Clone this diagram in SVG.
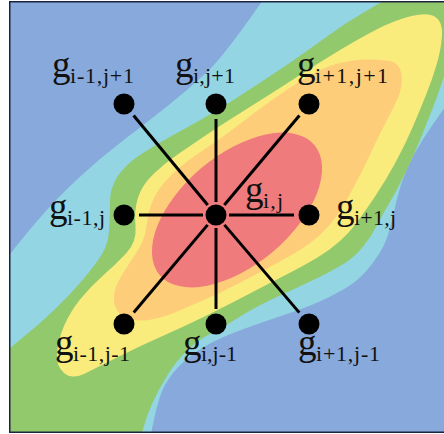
<svg xmlns="http://www.w3.org/2000/svg" width="444" height="434" viewBox="0 0 444 434">
<style>
.g{font-family:"Liberation Serif","Times New Roman",serif;font-size:37px;fill:#111}
.s{font-family:"Liberation Serif","Times New Roman",serif;font-size:22px;fill:#111}
.n{fill:#000}
.c{stroke:#000;stroke-width:3;stroke-linecap:butt;fill:none}
</style>
<defs>
<clipPath id="plot"><rect x="10" y="2" width="434" height="430"/></clipPath>
</defs>
<rect x="0" y="0" width="444" height="434" fill="#fff"/>
<g id="contours" clip-path="url(#plot)">
<rect x="10" y="2" width="434" height="430" fill="#87A9DC"/>
<path fill="#93D5E2" d="M 0,267 Q 20,241 37.5,220.5 Q 55,200 77.5,179 Q 100,158 125,139 Q 150,120 170,104 Q 190,88 207.5,71.5 Q 225,55 265,-3 L 450,-3 L 450,100 Q 432,125 422.5,140 Q 413,155 406.5,170 Q 400,185 396.5,201 Q 393,217 389.5,230 Q 386,243 379,254 Q 372,265 363.5,274 Q 355,283 342.5,290 Q 330,297 317.5,302.5 Q 305,308 282.5,315.5 Q 260,323 241,330 Q 222,337 209,344 Q 196,351 184,361.5 Q 172,372 164.5,386 Q 157,400 150,440 L -5,440 L -5,267 Z"/>
<path fill="#92C96C" d="M 0,356 Q 25,336 40,323 Q 55,310 70,294 Q 85,278 96,263 Q 108,248 109,231.5 Q 110,215 110,201.5 Q 110,188 117.5,176.5 Q 125,165 140,155 Q 155,145 171.5,136 Q 188,127 203,118.5 Q 218,110 235,99 Q 252,88 271,75.5 Q 290,63 306,51.5 Q 322,40 338.5,28.5 Q 355,17 392,-4 L 450,-4 L 450,58 Q 439,92 433.5,106 Q 428,120 421,137.5 Q 414,155 405.5,172.5 Q 397,190 389,203.5 Q 381,217 376.5,226 Q 372,235 363.5,246 Q 355,257 342.5,264.5 Q 330,272 317.5,278 Q 305,284 280,295.5 Q 255,307 238.5,317.5 Q 222,328 210,334 Q 198,340 187.5,350 Q 177,360 167.5,375 Q 158,390 151.5,405 Q 145,420 140,440 L -5,440 L -5,356 Z"/>
<path fill="#FAEB7D" d="M 411.5,16 Q 428,12 435.5,17 Q 443,22 442,36 Q 441,50 436.5,65 Q 432,80 426,95 Q 420,110 412.5,127.5 Q 405,145 395.5,162.5 Q 386,180 376,195 Q 366,210 358,221 Q 350,232 340,241 Q 330,250 317.5,257.5 Q 305,265 287.5,274 Q 270,283 246,295.5 Q 222,308 202.5,317.5 Q 183,327 161.5,336.5 Q 140,346 120,356 Q 100,366 86,373 Q 72,380 64,373 Q 56,366 57,353 Q 58,340 64,326 Q 70,312 80,299.5 Q 90,287 102.5,276 Q 115,265 126,253.5 Q 137,242 135.5,226 Q 134,210 138,197.5 Q 142,185 153.5,174 Q 165,163 177.5,154.5 Q 190,146 202.5,137.5 Q 215,129 230,119.5 Q 245,110 262.5,99 Q 280,88 300,75 Q 320,62 340,50 Q 360,38 377.5,29 Q 395,20 411.5,16 Z"/>
<path fill="#FDCD7A" d="M 336,64 Q 350,60 365,59.5 Q 380,59 390,61 Q 400,63 401.5,74.5 Q 403,86 398,97.5 Q 393,109 386,122 Q 379,135 370.5,153.5 Q 362,172 353.5,187.5 Q 345,203 337.5,214.5 Q 330,226 317.5,237 Q 305,248 280,261.5 Q 255,275 238.5,283.5 Q 222,292 206,299 Q 190,306 176,312 Q 162,318 148.5,320 Q 135,322 125,317 Q 115,312 114,301 Q 113,290 120.5,277.5 Q 128,265 136.5,252.5 Q 145,240 146.5,226 Q 148,212 153,200 Q 158,188 171.5,175 Q 185,162 203.5,150 Q 222,138 238.5,125 Q 255,112 272,100 Q 289,88 305.5,78 Q 322,68 336,64 Z"/>
<ellipse fill="#EF7B7C" cx="237" cy="210" rx="101" ry="55" transform="rotate(-40 237 210)"/>
</g>
<rect x="9.75" y="1.75" width="440" height="430.5" fill="none" stroke="#1c2340" stroke-width="1.5"/>
<g id="connectors">
<line class="c" x1="207.7" y1="205" x2="133.6" y2="115.5"/>
<line class="c" x1="216" y1="202" x2="216" y2="119"/>
<line class="c" x1="224.3" y1="205" x2="299.4" y2="115.5"/>
<line class="c" x1="203" y1="215" x2="139" y2="215"/>
<line class="c" x1="229" y1="215" x2="294" y2="215"/>
<line class="c" x1="207.6" y1="224.9" x2="133.7" y2="312.5"/>
<line class="c" x1="216" y1="228" x2="216" y2="309"/>
<line class="c" x1="224.4" y1="224.9" x2="299.3" y2="312.6"/>
</g>
<g id="n-im1-jp1"><circle class="n" cx="124" cy="104" r="10.5"/><text class="g" x="52" y="77">g</text><text class="s" x="70" y="83" textLength="64" lengthAdjust="spacing">i-1,j+1</text></g>
<g id="n-i-jp1"><circle class="n" cx="216" cy="104" r="10.5"/><text class="g" x="175" y="77">g</text><text class="s" x="193" y="83" textLength="42" lengthAdjust="spacing">i,j+1</text></g>
<g id="n-ip1-jp1"><circle class="n" cx="309" cy="104" r="10.5"/><text class="g" x="297" y="77">g</text><text class="s" x="315" y="83" textLength="73" lengthAdjust="spacing">i+1,j+1</text></g>
<g id="n-im1-j"><circle class="n" cx="124" cy="215" r="10.5"/><text class="g" x="49" y="219">g</text><text class="s" x="67" y="225" textLength="38" lengthAdjust="spacing">i-1,j</text></g>
<g id="n-i-j"><circle class="n" cx="216" cy="215" r="10.5"/><text class="g" x="245" y="202">g</text><text class="s" x="263" y="208" textLength="20" lengthAdjust="spacing">i,j</text></g>
<g id="n-ip1-j"><circle class="n" cx="309" cy="215" r="10.5"/><text class="g" x="336" y="219">g</text><text class="s" x="354" y="225" textLength="42" lengthAdjust="spacing">i+1,j</text></g>
<g id="n-im1-jm1"><circle class="n" cx="124" cy="324" r="10.5"/><text class="g" x="55" y="355">g</text><text class="s" x="73" y="361" textLength="57" lengthAdjust="spacing">i-1,j-1</text></g>
<g id="n-i-jm1"><circle class="n" cx="216" cy="324" r="10.5"/><text class="g" x="183" y="355">g</text><text class="s" x="201" y="361" textLength="36" lengthAdjust="spacing">i,j-1</text></g>
<g id="n-ip1-jm1"><circle class="n" cx="309" cy="324" r="10.5"/><text class="g" x="298" y="355">g</text><text class="s" x="316" y="361" textLength="64" lengthAdjust="spacing">i+1,j-1</text></g>
</svg>
